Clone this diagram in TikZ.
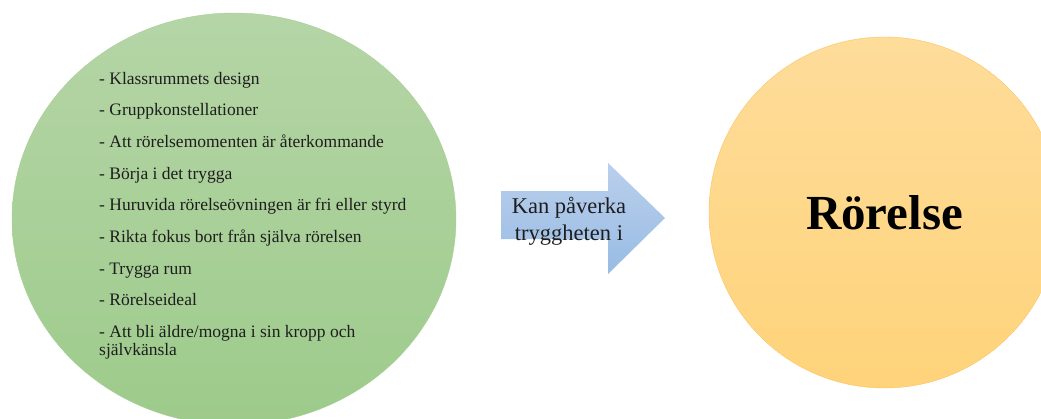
\documentclass[tikz,border=0pt]{standalone}
\usepackage{fontspec}
\setmainfont{Liberation Serif}
\usetikzlibrary{shapes.geometric}
\definecolor{gtop}{RGB}{181,213,166}
\definecolor{gbot}{RGB}{157,203,139}
\definecolor{otop}{RGB}{254,220,154}
\definecolor{obot}{RGB}{254,211,122}
\definecolor{btop}{RGB}{186,207,236}
\definecolor{bbot}{RGB}{152,188,228}
\definecolor{txt}{RGB}{30,30,30}
\tikzset{
  item/.style={anchor=base west, inner sep=0pt, font=\fontsize{17.5}{18.3}\selectfont, text=txt},
  arrowtext/.style={inner sep=0pt, font=\fontsize{22.5}{27}\selectfont, text=txt, align=center},
}
\begin{document}
\begin{tikzpicture}[x=1pt,y=-1pt]
\useasboundingbox (0,0) rectangle (1041,418);
\clip (0,0) rectangle (1041,418);
\fill[white] (0,0) rectangle (1041,418);
% green ellipse
\node[ellipse, minimum width=444pt, minimum height=412pt, inner sep=0pt,
      top color=gtop, bottom color=gbot, draw=gbot!90!white, line width=0.4pt] (causes) at (234,219) {};
% orange circle
\node[circle, minimum size=351pt, inner sep=0pt,
      top color=otop, bottom color=obot, draw=obot!80!orange, line width=0.4pt,
      font=\fontsize{49}{55}\bfseries\selectfont, text=black] (rorelse) at (884.5,212.5) {Rörelse};
% block arrow
\shade[top color=btop, bottom color=bbot] (501,191) -- (608,191) -- (608,163) -- (665,218) -- (608,274) -- (608,239) -- (501,239) -- cycle;
\node[arrowtext] (arrowlabel) at (569,221) {Kan påverka\\tryggheten i};
% list items
\node[item] (l1) at (99,84) {- Klassrummets design};
\node[item] (l2) at (99,115.7) {- Gruppkonstellationer};
\node[item] (l3) at (99,147.3) {- Att rörelsemomenten är återkommande};
\node[item] (l4) at (99,179) {- Börja i det trygga};
\node[item] (l5) at (99,210.7) {- Huruvida rörelseövningen är fri eller styrd};
\node[item] (l6) at (99,242.3) {- Rikta fokus bort från själva rörelsen};
\node[item] (l7) at (99,274) {- Trygga rum};
\node[item] (l8) at (99,305.7) {- Rörelseideal};
\node[item] (l9) at (99,337.3) {- Att bli äldre/mogna i sin kropp och};
\node[item] (l9b) at (99,355.6) {självkänsla};
\end{tikzpicture}
\end{document}
